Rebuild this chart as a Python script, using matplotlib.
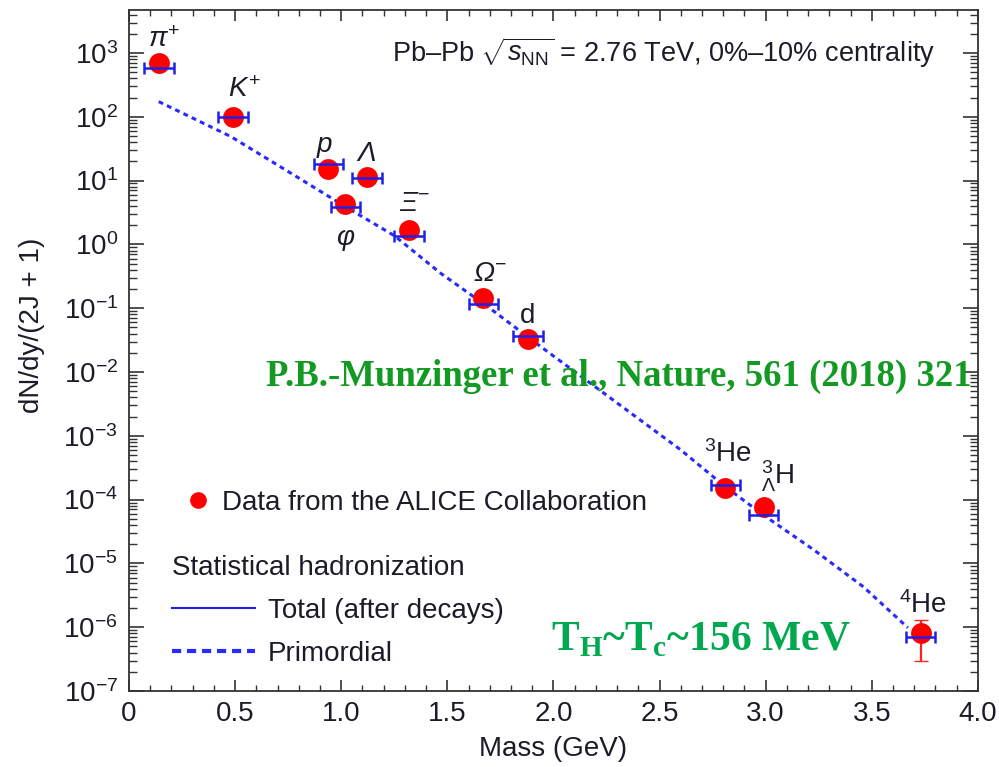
import numpy as np
import matplotlib.pyplot as plt
from matplotlib.lines import Line2D
from matplotlib.ticker import LogLocator, MultipleLocator

plt.rcParams['font.family'] = ['Liberation Sans', 'DejaVu Sans']
plt.rcParams['mathtext.fontset'] = 'custom'
plt.rcParams['mathtext.rm'] = 'Liberation Sans'
plt.rcParams['mathtext.it'] = 'Liberation Sans:italic'
plt.rcParams['mathtext.bf'] = 'Liberation Sans:bold'

# Czastki: masa (GeV), dane ALICE, model (total), etykiety
names = [r'$\pi^{+}$', r'$K^{+}$', r'$p$', r'$\varphi$', 'Λ',
         'Ξ$^{-}$', 'Ω$^{-}$', 'd',
         r'$^{3}$He', r'$^{3}_{\Lambda}$H', r'$^{4}$He']
lab_style = ['normal', 'normal', 'normal', 'normal', 'italic',
             'italic', 'italic', 'normal', 'normal', 'normal', 'normal']
mass = [0.14, 0.49, 0.94, 1.02, 1.12, 1.32, 1.67, 1.88, 2.81, 2.99, 3.73]
data_y = [690, 98, 15.2, 4.25, 11.5, 1.68, 0.146, 0.0325, 1.50e-4, 7.7e-5, 8.0e-7]
total_y = [575, 100, 18.2, 3.9, 10.9, 1.37, 0.115, 0.0366, 1.69e-4, 5.7e-5, 7.1e-7]
# przesuniecia etykiet (punkty)
lab_dx = [4, 8, -3, 0, 0, 4, 5, 0, 2, 10, 2]
lab_dy = [17, 20, 16, -26, 16, 19, 17, 17, 25, 22, 20]

# 4He - niepewnosc pionowa
he4_low = 2.9e-7
he4_high = 1.3e-6

# Primordial (krzywa przerywana)
prim_m = [0.14, 0.48, 0.79, 1.02, 1.25, 1.47, 1.70, 1.94, 2.60, 2.80, 2.99, 3.23, 3.46, 3.67]
prim_y = [173, 49, 11.5, 3.9, 1.37, 0.35, 0.10, 0.025, 6.0e-4, 1.69e-4, 5.7e-5, 1.6e-5, 4.3e-6, 9.8e-7]

txt_col = '#1c1c28'
blue = '#1f1fe6'
fs = 20

fig = plt.figure(figsize=(9.99, 7.67), dpi=100)
ax = fig.add_axes([0.1291, 0.0991, 0.8498, 0.8885])

ax.plot(prim_m, prim_y, color='#2a2aff', lw=2.2, linestyle=(0, (1.6, 1.4)), zorder=2)

ax.errorbar(mass[-1], data_y[-1],
            yerr=[[data_y[-1] - he4_low], [he4_high - data_y[-1]]],
            fmt='none', ecolor='#ff2020', elinewidth=1.6, capsize=5, zorder=3)
ax.plot(mass, data_y, 'o', color='#ff0000', markersize=15, markeredgewidth=0, zorder=4)
ax.errorbar(mass, total_y, xerr=0.07, fmt='none', ecolor=blue,
            elinewidth=1.8, capsize=4, capthick=1.8, zorder=5)

for n, st, m, y, dx, dy in zip(names, lab_style, mass, data_y, lab_dx, lab_dy):
    ax.annotate(n, (m, y), xytext=(dx, dy), textcoords='offset points',
                ha='center', va='center', fontsize=fs, style=st, color=txt_col)

ax.set_yscale('log')
ax.set_xlim(0, 4.0)
ax.set_ylim(1e-7, 4.8e3)
ax.xaxis.set_major_locator(MultipleLocator(0.5))
ax.xaxis.set_minor_locator(MultipleLocator(0.1))
ax.yaxis.set_major_locator(LogLocator(base=10, numticks=20))
ax.yaxis.set_minor_locator(LogLocator(base=10, subs=np.arange(2, 10), numticks=20))
ax.set_xticks([0, 0.5, 1, 1.5, 2, 2.5, 3, 3.5, 4])
ax.set_xticklabels(['0', '0.5', '1.0', '1.5', '2.0', '2.5', '3.0', '3.5', '4.0'])

ax.tick_params(which='both', direction='in', top=True, right=True,
               labelsize=fs, labelcolor=txt_col, color='#333333')
ax.tick_params(axis='x', which='major', length=8, width=1.2, pad=7)
ax.tick_params(axis='x', which='minor', length=4, width=1.0)
ax.tick_params(axis='y', which='major', length=11, width=1.2, pad=8)
ax.tick_params(axis='y', which='minor', length=5.5, width=1.0)
for s in ax.spines.values():
    s.set_linewidth(1.3)
    s.set_color('#333333')

ax.set_xlabel('Mass (GeV)', fontsize=fs, color=txt_col)
ax.set_ylabel('dN/dy/(2J + 1)', fontsize=fs, color=txt_col)
ax.xaxis.set_label_coords(0.5, -0.066)
ax.yaxis.set_label_coords(-0.099, 0.537)

ax.text(0.949, 0.936, r'Pb–Pb $\sqrt{s_{\mathrm{NN}}}$ = 2.76 TeV, 0%–10% centrality',
        transform=ax.transAxes, ha='right', va='center', fontsize=19.5, color=txt_col)

# Legenda
h1 = Line2D([], [], marker='o', color='#ff0000', linestyle='none', markersize=11)
leg1 = ax.legend([h1], ['Data from the ALICE Collaboration'], loc='center left',
                 bbox_to_anchor=(0.0666, 0.2759), frameon=False, fontsize=fs,
                 handlelength=0.9, handletextpad=0.41, borderpad=0, borderaxespad=0,
                 labelcolor=txt_col)
ax.add_artist(leg1)
h2 = Line2D([], [], color=blue, lw=1.5)
h3 = Line2D([], [], color='#2a2aff', lw=3, linestyle=(0, (2.2, 1.4)))
leg2 = ax.legend([h2, h3], ['Total (after decays)', 'Primordial'], loc='upper left',
                 bbox_to_anchor=(0.0506, 0.1990), frameon=False, fontsize=fs,
                 title='Statistical hadronization', title_fontsize=fs,
                 alignment='left', handlelength=2.99, handletextpad=0.47,
                 labelspacing=0.6, borderpad=0, borderaxespad=0, labelcolor=txt_col)
leg2.get_title().set_color(txt_col)

# Zielone napisy
ax.text(0.577, 0.462, 'P.B.-Munzinger et al., Nature, 561 (2018) 321',
        transform=ax.transAxes, ha='center', va='center', fontsize=26.5,
        family='Liberation Serif', weight='bold', color='#139a22', zorder=10, clip_on=False)
ax.text(0.674, 0.075, r'T$_\mathregular{H}$~T$_\mathregular{c}$~156 MeV',
        transform=ax.transAxes, ha='center', va='center', fontsize=30,
        family='Liberation Serif', weight='bold', color='#00a84f', zorder=10)

fig.savefig('out.png', dpi=100)
